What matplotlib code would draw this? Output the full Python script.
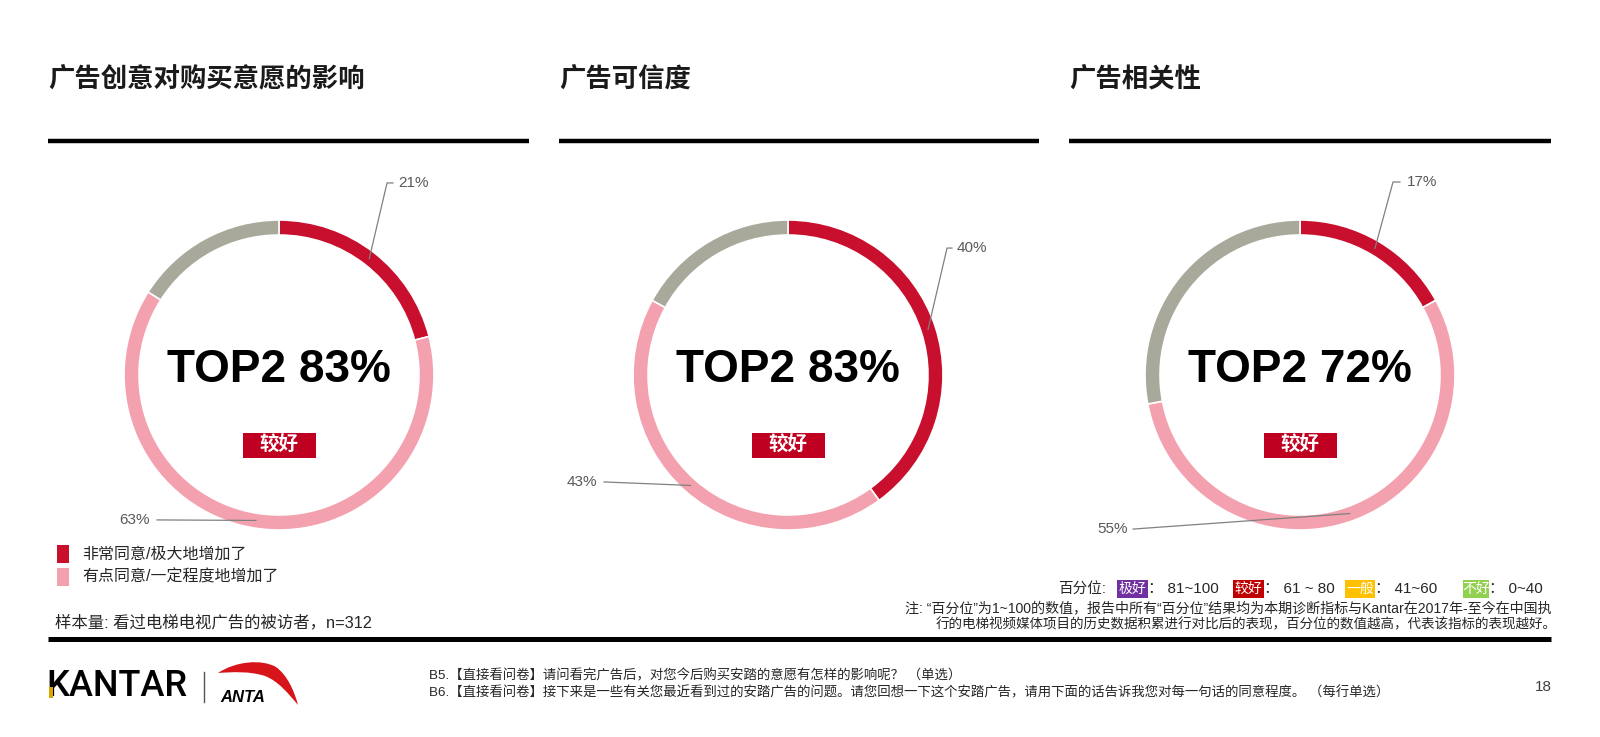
import matplotlib
matplotlib.use("Agg")
import numpy as np
import matplotlib.pyplot as plt
from matplotlib.patches import Rectangle, PathPatch
from matplotlib.path import Path

plt.rcParams['font.family'] = ['Liberation Sans', 'Noto Sans CJK SC', 'DejaVu Sans']

# --- data ---
TITLES = ['广告创意对购买意愿的影响', '广告可信度', '广告相关性']
VERY_AGREE = [21, 40, 17]        # 非常同意/极大地增加了
SOMEWHAT_AGREE = [63, 43, 55]    # 有点同意/一定程度地增加了
OTHERS = [16, 17, 28]            # rest (grey)
TOP2 = [83, 83, 72]
RATING = ['较好', '较好', '较好']

LEGEND_LABELS = ['非常同意/极大地增加了', '有点同意/一定程度地增加了']
SAMPLE_NOTE = '样本量: 看过电梯电视广告的被访者，n=312'

PCT_NAMES = ['极好', '较好', '一般', '不好']
PCT_RANGES = ['81~100', '61 ~ 80', '41~60', '0~40']

NOTE_1 = '注: “百分位”为1~100的数值，报告中所有“百分位”结果均为本期诊断指标与Kantar在2017年-至今在中国执'
NOTE_2 = '行的电梯视频媒体项目的历史数据积累进行对比后的表现，百分位的数值越高，代表该指标的表现越好。'
FOOT_B5 = 'B5.【直接看问卷】请问看完广告后，对您今后购买安踏的意愿有怎样的影响呢？ （单选）'
FOOT_B6 = 'B6.【直接看问卷】接下来是一些有关您最近看到过的安踏广告的问题。请您回想一下这个安踏广告，请用下面的话告诉我您对每一句话的同意程度。 （每行单选）'
PAGE_NO = '18'

# --- styling / layout (pixels on a 1600x737 canvas) ---
W, H = 1600, 737
RED = '#C8102E'
PINK = '#F4A1AF'
GREY = '#A8A99A'
BADGE = '#C00020'
PCT_COLORS = ['#7030A0', '#C00000', '#FFC000', '#92D050']
LABEL_COLOR = '#595959'
TEXT_COLOR = '#262626'

PANEL_X = [(48, 529), (559, 1039), (1069, 1551)]
CENTERS_X = [279, 788, 1300]
CENTER_Y = 375
R = 155
RING = 0.097

# leader line geometry in donut units: (elbow x, elbow y, horiz end, text x)
TOP_LEADER = [(0.697, 1.239, 0.735, 0.768), (1.026, 0.819, 1.058, 1.09), (0.6, 1.245, 0.645, 0.69)]
# (text right edge, text y, line start x)
BOT_LEADER = [(-0.832, -0.935, -0.787), (-1.232, -0.69, -1.187), (-1.11, -0.994, -1.077)]

fig = plt.figure(figsize=(W / 100, H / 100), dpi=100)
fig.patch.set_facecolor('white')
bg = fig.add_axes([0, 0, 1, 1])
bg.set_xlim(0, W)
bg.set_ylim(H, 0)
bg.axis('off')

# panel titles and rules
for (x0, x1), title in zip(PANEL_X, TITLES):
    bg.text(x0, 80, title, fontsize=19, fontweight='bold', va='center', ha='left',
            family=['Noto Sans CJK SC'], color='#1a1a1a')
    bg.plot([x0, x1], [141, 141], color='black', lw=3.2, solid_capstyle='butt')

bg.plot([48, 1551], [639, 639], color='black', lw=3.6, solid_capstyle='butt')

# donuts
for i in range(3):
    cx = CENTERS_X[i]
    ax = fig.add_axes([(cx - R) / W, 1 - (CENTER_Y + R) / H, 2 * R / W, 2 * R / H])
    vals = [VERY_AGREE[i], SOMEWHAT_AGREE[i], OTHERS[i]]
    ax.pie(vals, colors=[RED, PINK, GREY], startangle=90, counterclock=False,
           radius=1.0, wedgeprops=dict(width=RING, edgecolor='white', linewidth=1.2))
    ax.set_xlim(-1, 1)
    ax.set_ylim(-1, 1)
    ax.set_aspect('equal')
    ax.axis('off')

    total = sum(vals)
    # leader for very agree
    mid = 90 - 360 * (vals[0] / 2) / total
    px, py = 0.95 * np.cos(np.radians(mid)), 0.95 * np.sin(np.radians(mid))
    ex, ey, hx, tx = TOP_LEADER[i]
    ax.plot([px, ex, hx], [py, ey, ey], color='#808080', lw=0.9, clip_on=False)
    ax.text(tx, ey, f'{VERY_AGREE[i]}%', fontsize=11, color=LABEL_COLOR,
            ha='left', va='center', clip_on=False)

    # leader for somewhat agree
    mid = 90 - 360 * (vals[0] + vals[1] / 2) / total
    px, py = 0.95 * np.cos(np.radians(mid)), 0.95 * np.sin(np.radians(mid))
    rx, ty, lx = BOT_LEADER[i]
    ax.plot([lx, px], [ty, py], color='#808080', lw=0.9, clip_on=False)
    ax.text(rx, ty, f'{SOMEWHAT_AGREE[i]}%', fontsize=11, color=LABEL_COLOR,
            ha='right', va='center', clip_on=False)

    ax.text(0, 0.03, f'TOP2 {TOP2[i]}%', fontsize=33, fontweight='bold',
            ha='center', va='center', color='black')
    bw, bh = 73 / R, 25 / R
    ax.add_patch(Rectangle((-bw / 2, -0.452 - bh / 2), bw, bh, facecolor=BADGE,
                           edgecolor='none'))
    ax.text(0, -0.452, RATING[i], fontsize=14, fontweight='bold', color='white',
            ha='center', va='center', family=['Noto Sans CJK SC'])

# series legend
for (y, color, label) in [(554, RED, LEGEND_LABELS[0]), (577, PINK, LEGEND_LABELS[1])]:
    bg.add_patch(Rectangle((57, y - 9), 12, 18, facecolor=color, edgecolor='none'))
    bg.text(82, y, label, fontsize=11.5, va='center', ha='left', color=TEXT_COLOR)
bg.text(55, 623, SAMPLE_NOTE, fontsize=11.8, va='center', ha='left', color=TEXT_COLOR)

# percentile legend
bg.text(1058, 589, '百分位:', fontsize=10.5, va='center', ha='left', color=TEXT_COLOR)
badge_x = [1117, 1233, 1345, 1463]
badge_w = [31, 31, 30, 26]
for bx, bw_, name, rng, col in zip(badge_x, badge_w, PCT_NAMES, PCT_RANGES, PCT_COLORS):
    bg.add_patch(Rectangle((bx, 580), bw_, 18, facecolor=col, edgecolor='none'))
    bg.text(bx + bw_ / 2, 589, name, fontsize=10, color='white', ha='center', va='center',
            family=['Noto Sans CJK SC'])
    bg.text(bx + bw_, 589, '： ' + rng, fontsize=11, va='center', ha='left', color=TEXT_COLOR)

bg.text(905, 609, NOTE_1, fontsize=10.1, va='center', ha='left', color=TEXT_COLOR)
bg.text(936, 624, NOTE_2, fontsize=9.75, va='center', ha='left', color=TEXT_COLOR)

# footer
bg.text(429, 676, FOOT_B5, fontsize=9.65, va='center', ha='left', color=TEXT_COLOR)
bg.text(429, 693, FOOT_B6, fontsize=9.65, va='center', ha='left', color=TEXT_COLOR)
bg.text(1543, 687, PAGE_NO, fontsize=11, va='center', ha='center', color='#404040')

# logos
bg.text(46, 686, 'KANTAR', fontsize=26, fontweight='medium', va='center', ha='left',
        family=['Roboto', 'Liberation Sans'], color='black')
bg.add_patch(Rectangle((48.5, 687), 4.2, 11, facecolor='#D9A800', edgecolor='none', zorder=5))
bg.plot([204, 204], [672, 702], color='#555555', lw=1)
verts = [(218, 673), (236, 661), (262, 659), (276, 667),
         (287, 675), (294, 690), (298, 705),
         (288, 693), (278, 681), (265, 676),
         (250, 671), (232, 672), (218, 673), (218, 673)]
codes = [Path.MOVETO, Path.CURVE4, Path.CURVE4, Path.CURVE4,
         Path.CURVE4, Path.CURVE4, Path.CURVE4,
         Path.CURVE4, Path.CURVE4, Path.CURVE4,
         Path.CURVE4, Path.CURVE4, Path.CURVE4, Path.CLOSEPOLY]
bg.add_patch(PathPatch(Path(verts, codes), facecolor='#D7141A', edgecolor='none'))
bg.text(220, 697, 'ANTA', fontsize=12, fontweight='bold', style='italic',
        va='center', ha='left', color='black')

fig.savefig('out.png', dpi=100, facecolor='white')
